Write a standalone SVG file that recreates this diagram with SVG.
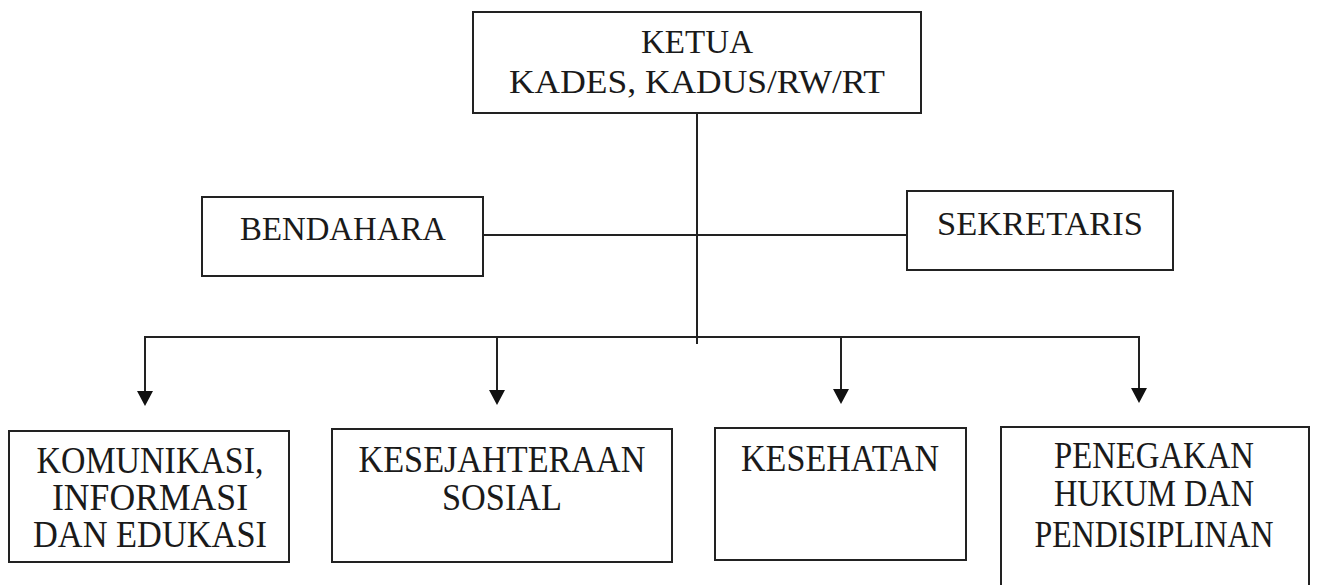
<svg xmlns="http://www.w3.org/2000/svg" width="1318" height="585" viewBox="0 0 1318 585">
<style>
.box{fill:#fff;stroke:#222;stroke-width:2}
.t{font-family:"Liberation Serif","DejaVu Serif",serif;fill:#1a1a1a;text-anchor:middle}
.s{font-size:33px}
.b{font-size:37px}
.c{fill:none;stroke:#222;stroke-width:2}
.ah{fill:#111}
</style>
<rect width="1318" height="585" fill="#fff"/>
<g id="connectors">
<line class="c" x1="697" y1="113" x2="697" y2="344"/>
<line class="c" x1="483" y1="235" x2="907" y2="235"/>
<line class="c" x1="145" y1="337" x2="1139" y2="337"/>
<line class="c" x1="145" y1="336" x2="145" y2="392"/>
<line class="c" x1="497" y1="336" x2="497" y2="391"/>
<line class="c" x1="841" y1="336" x2="841" y2="390"/>
<line class="c" x1="1139" y1="336" x2="1139" y2="389"/>
<path class="ah" d="M137,391 L153,391 L145,406 Z"/>
<path class="ah" d="M489,390 L505,390 L497,405 Z"/>
<path class="ah" d="M833,389 L849,389 L841,404 Z"/>
<path class="ah" d="M1131,388 L1147,388 L1139,403 Z"/>
</g>
<g id="ketua">
<rect class="box" x="473" y="12" width="448" height="101"/>
<text class="t s" x="697" y="53" textLength="112" lengthAdjust="spacingAndGlyphs">KETUA</text>
<text class="t s" x="697" y="93" textLength="376" lengthAdjust="spacingAndGlyphs">KADES, KADUS/RW/RT</text>
</g>
<g id="bendahara">
<rect class="box" x="202" y="197" width="281" height="79"/>
<text class="t s" x="343" y="240" textLength="206" lengthAdjust="spacingAndGlyphs">BENDAHARA</text>
</g>
<g id="sekretaris">
<rect class="box" x="907" y="191" width="266" height="79"/>
<text class="t s" x="1040" y="235" textLength="206" lengthAdjust="spacingAndGlyphs">SEKRETARIS</text>
</g>
<g id="kie">
<rect class="box" x="9" y="431" width="280" height="131"/>
<text class="t b" x="150" y="473" textLength="227" lengthAdjust="spacingAndGlyphs">KOMUNIKASI,</text>
<text class="t b" x="150" y="510" textLength="196" lengthAdjust="spacingAndGlyphs">INFORMASI</text>
<text class="t b" x="150" y="547" textLength="234" lengthAdjust="spacingAndGlyphs">DAN EDUKASI</text>
</g>
<g id="kesos">
<rect class="box" x="332" y="429" width="340" height="133"/>
<text class="t b" x="502" y="472" textLength="287" lengthAdjust="spacingAndGlyphs">KESEJAHTERAAN</text>
<text class="t b" x="502" y="510" textLength="120" lengthAdjust="spacingAndGlyphs">SOSIAL</text>
</g>
<g id="kesehatan">
<rect class="box" x="715" y="428" width="251" height="132"/>
<text class="t b" x="840" y="471" textLength="198" lengthAdjust="spacingAndGlyphs">KESEHATAN</text>
</g>
<g id="penegakan">
<path class="box" d="M1001,586 L1001,427 L1309,427 L1309,586"/>
<text class="t b" x="1154" y="468" textLength="200" lengthAdjust="spacingAndGlyphs">PENEGAKAN</text>
<text class="t b" x="1154" y="506" textLength="200" lengthAdjust="spacingAndGlyphs">HUKUM DAN</text>
<text class="t b" x="1154" y="547" textLength="239" lengthAdjust="spacingAndGlyphs">PENDISIPLINAN</text>
</g>
</svg>
